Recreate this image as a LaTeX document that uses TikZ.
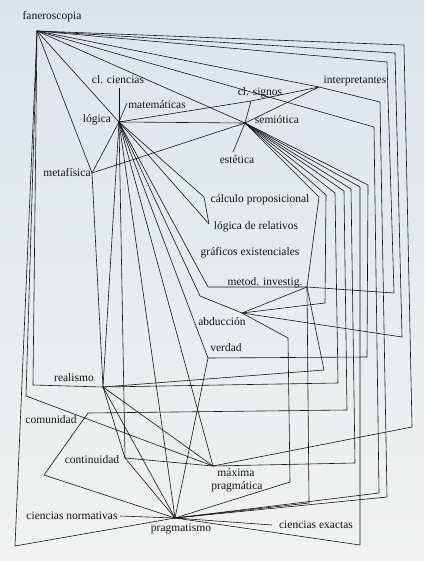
\documentclass[tikz,border=0pt]{standalone}
\usepackage{fontspec}
\setmainfont{Liberation Serif}
\definecolor{papertop}{RGB}{221,228,233}
\definecolor{paperbot}{RGB}{241,242,241}
\definecolor{ink}{RGB}{20,20,20}
\tikzset{
  lbl/.style={font=\fontsize{11.5}{13}\selectfont, inner sep=0pt, text=ink},
  ln/.style={draw=ink, line width=0.6pt, line join=round}
}
\begin{document}
\begin{tikzpicture}[x=1pt,y=-1pt]
        \shade [top color=papertop, bottom color=paperbot] (0,0) rectangle (424,561);
        \useasboundingbox (0,0) rectangle (424,561);
        % points
        \coordinate (fan) at (37,31);
        \coordinate (logica) at (119,122);
        \coordinate (clc) at (119,88);
        \coordinate (mat) at (127,103);
        \coordinate (meta) at (92,173);
        \coordinate (cls) at (251,101);
        \coordinate (interp) at (319,87);
        \coordinate (semio) at (245,123);
        \coordinate (estet) at (233,152);
        \coordinate (calc) at (204,197);
        \coordinate (rel) at (209,224);
        \coordinate (metod) at (307,287);
        \coordinate (metodb) at (208,287);
        \coordinate (abduc) at (242,313);
        \coordinate (abducb) at (200,296);
        \coordinate (abducc) at (288,338);
        \coordinate (abducd) at (290,482);
        \coordinate (verdad) at (208,358);
        \coordinate (real) at (103,387);
        \coordinate (comun) at (88,413);
        \coordinate (comunb) at (44,475);
        \coordinate (contin) at (125,458);
        \coordinate (maxima) at (213,466);
        \coordinate (pragm) at (175,518);
        \coordinate (cnorm) at (120,516);
        \coordinate (cexac) at (272,525);
        % labels
        \node[lbl] (tfan) at (52,17) {faneroscopia};
        \node[lbl] (tclc) at (118,80) {cl. ciencias};
        \node[lbl] (tmat) at (157,105) {matemáticas};
        \node[lbl] (tlog) at (97,120) {lógica};
        \node[lbl] (tmeta) at (67,173) {metafísica};
        \node[lbl] (tcls) at (260,93) {cl. signos};
        \node[lbl] (tint) at (355,81) {interpretantes};
        \node[lbl] (tsem) at (277,120) {semiótica};
        \node[lbl] (test) at (237,160) {estética};
        \node[lbl] (tcalc) at (260,200) {cálculo proposicional};
        \node[lbl] (trel) at (256,227) {lógica de relativos};
        \node[lbl] (tgraf) at (250,253) {gráficos existenciales};
        \node[lbl] (tmet) at (265,283) {metod. investig.};
        \node[lbl] (tabd) at (222,322) {abducción};
        \node[lbl] (tver) at (226,348) {verdad};
        \node[lbl] (treal) at (74,378) {realismo};
        \node[lbl] (tcom) at (51,420) {comunidad};
        \node[lbl] (tcont) at (92,460) {continuidad};
        \node[lbl] (tmax) at (236,473) {máxima};
        \node[lbl] (tmaxb) at (237,487) {pragmática};
        \node[lbl] (tcn) at (72,516) {ciencias normativas};
        \node[lbl] (tprag) at (181,529) {pragmatismo};
        \node[lbl] (tce) at (316,525) {ciencias exactas};
        % faneroscopia
        \draw[ln] (fan) -- (meta);
        \draw[ln] (fan) -- (logica);
        \draw[ln] (fan) -- (semio);
        \draw[ln] (fan) -- (404,45) -- (412,427) -- (maxima);
        \draw[ln] (fan) -- (395,53) -- (402,337) -- (abduc);
        \draw[ln] (fan) -- (387,62) -- (394,293) -- (metod);
        \draw[ln] (fan) -- (interp) -- (380,102) -- (387,497) -- (pragm);
        \draw[ln] (fan) -- (374,127) -- (379,493) -- (pragm);
        \draw[ln] (fan) -- (33,385) -- (real);
        \draw[ln] (fan) -- (26,396) -- (maxima);
        \draw[ln] (fan) -- (15,546) -- (pragm);
        % logica
        \draw[ln] (logica) -- (clc);
        \draw[ln] (logica) -- (mat);
        \draw[ln] (logica) -- (meta);
        \draw[ln] (logica) -- (cls) -- (interp);
        \draw[ln] (logica) -- (semio);
        \draw[ln] (logica) -- (calc) -- (rel);
        \draw[ln] (logica) -- (rel);
        \draw[ln] (logica) -- (metodb) -- (metod);
        \draw[ln] (logica) -- (abducb) -- (abduc) -- (abducc) -- (abducd) -- (pragm);
        \draw[ln] (logica) -- (verdad);
        \draw[ln] (logica) -- (real);
        \draw[ln] (logica) -- (contin);
        \draw[ln] (logica) -- (maxima);
        \draw[ln] (logica) -- (pragm);
        % metafisica, signos
        \draw[ln] (meta) -- (semio) -- (interp);
        \draw[ln] (meta) -- (real);
        \draw[ln] (cls) -- (semio) -- (estet);
        % semiotica
        \draw[ln] (semio) -- (319,197) -- (metod);
        \draw[ln] (semio) -- (326,195) -- (325,303) -- (abduc);
        \draw[ln] (semio) -- (335,193) -- (338,383) -- (real);
        \draw[ln] (semio) -- (344,191) -- (347,410) -- (comun);
        \draw[ln] (semio) -- (351,189) -- (355,463) -- (maxima);
        \draw[ln] (semio) -- (360,187) -- (360,545) -- (pragm);
        \draw[ln] (semio) -- (368,185) -- (367,357) -- (verdad);
        % metod. investig., abduccion, verdad
        \draw[ln] (metod) -- (abduc);
        \draw[ln] (metod) -- (309,503) -- (pragm);
        \draw[ln] (metod) -- (324,370) -- (real);
        \draw[ln] (verdad) -- (pragm);
        % bottom
        \draw[ln] (real) -- (contin);
        \draw[ln] (real) -- (maxima);
        \draw[ln] (real) -- (pragm);
        \draw[ln] (contin) -- (maxima);
        \draw[ln] (contin) -- (pragm);
        \draw[ln] (comun) -- (comunb) -- (pragm);
        \draw[ln] (cnorm) -- (pragm);
        \draw[ln] (pragm) -- (cexac);
      \end{tikzpicture}
\end{document}
